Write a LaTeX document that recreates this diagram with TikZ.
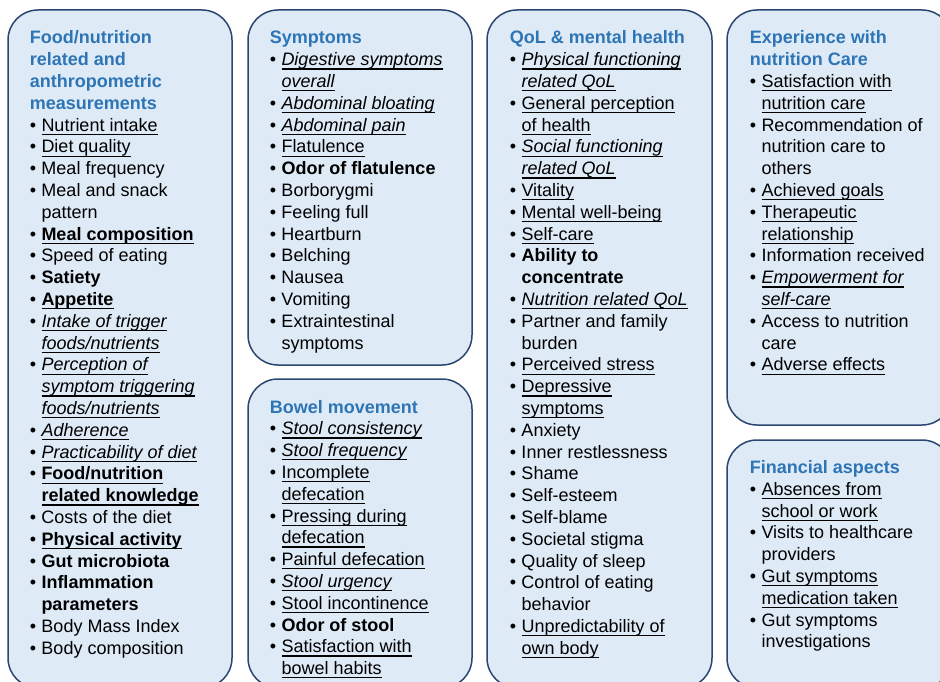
\documentclass[tikz,border=0pt]{standalone}
\usepackage{fontspec}
\setmainfont{Liberation Sans}
\usepackage{array}

\definecolor{boxfill}{HTML}{DEEAF6}
\definecolor{boxline}{HTML}{2B4670}
\definecolor{headblue}{HTML}{2E75B6}

% underline drawn as a rule under a saved box
\newsavebox{\ulnbox}
\newcommand{\uln}[1]{\sbox{\ulnbox}{#1}\rlap{\rule[-3.8pt]{\wd\ulnbox}{1.2pt}}\usebox{\ulnbox}}
\newcommand{\uit}[1]{{\itshape\uln{#1}}}
\newcommand{\ubf}[1]{{\bfseries\uln{#1}}}

% rows of the outcome lists
\newcommand{\headrow}[1]{\multicolumn{2}{@{}l@{}}{\color{headblue}\bfseries #1}\\}
\newcommand{\itemrow}[1]{\textbullet & #1\\}
\newcommand{\itemcont}[1]{& #1\\}

\tikzset{
	box/.style={draw=boxline, line width=1.5pt, fill=boxfill, rounded corners=30pt},
	list/.style={anchor=base west, inner sep=0pt, font=\fontsize{18}{21.8}\selectfont}
}

\begin{document}
\begin{tikzpicture}[x=1pt, y=-1pt]
	\useasboundingbox (0,0) rectangle (940,682);
	\clip (0,0) rectangle (940,682);

	% the six boxes
	\draw[box] (8,10) rectangle (232,688);
	\draw[box] (248,10) rectangle (472,365);
	\draw[box] (248,379) rectangle (472,688);
	\draw[box] (487,10) rectangle (712,688);
	\draw[box] (727,10) rectangle (952,425);
	\draw[box] (727,440) rectangle (952,688);

	% food
	\node[list] (food) at (29.7,44) {\begin{tabular}[t]{@{}p{11.6pt}@{}l@{}}
		\headrow{Food/nutrition}
		\headrow{related and}
		\headrow{anthropometric}
		\headrow{measurements}
		\itemrow{\uln{Nutrient intake}}
		\itemrow{\uln{Diet quality}}
		\itemrow{Meal frequency}
		\itemrow{Meal and snack}
		\itemcont{pattern}
		\itemrow{\ubf{Meal composition}}
		\itemrow{Speed of eating}
		\itemrow{\textbf{Satiety}}
		\itemrow{\ubf{Appetite}}
		\itemrow{\uit{Intake of trigger}}
		\itemcont{\uit{foods/nutrients}}
		\itemrow{\uit{Perception of}}
		\itemcont{\uit{symptom triggering}}
		\itemcont{\uit{foods/nutrients}}
		\itemrow{\uit{Adherence}}
		\itemrow{\uit{Practicability of diet}}
		\itemrow{\ubf{Food/nutrition}}
		\itemcont{\ubf{related knowledge}}
		\itemrow{Costs of the diet}
		\itemrow{\ubf{Physical activity}}
		\itemrow{\textbf{Gut microbiota}}
		\itemrow{\textbf{Inflammation}}
		\itemcont{\textbf{parameters}}
		\itemrow{Body Mass Index}
		\itemrow{Body composition}
	\end{tabular}};

	% symptoms
	\node[list] (symptoms) at (269.7,44) {\begin{tabular}[t]{@{}p{11.6pt}@{}l@{}}
		\headrow{Symptoms}
		\itemrow{\uit{Digestive symptoms}}
		\itemcont{\uit{overall}}
		\itemrow{\uit{Abdominal bloating}}
		\itemrow{\uit{Abdominal pain}}
		\itemrow{\uln{Flatulence}}
		\itemrow{\textbf{Odor of flatulence}}
		\itemrow{Borborygmi}
		\itemrow{Feeling full}
		\itemrow{Heartburn}
		\itemrow{Belching}
		\itemrow{Nausea}
		\itemrow{Vomiting}
		\itemrow{Extraintestinal}
		\itemcont{symptoms}
	\end{tabular}};

	% bowel
	\node[list] (bowel) at (269.7,413) {\begin{tabular}[t]{@{}p{11.6pt}@{}l@{}}
		\headrow{Bowel movement}
		\itemrow{\uit{Stool consistency}}
		\itemrow{\uit{Stool frequency}}
		\itemrow{\uln{Incomplete}}
		\itemcont{\uln{defecation}}
		\itemrow{\uln{Pressing during}}
		\itemcont{\uln{defecation}}
		\itemrow{\uln{Painful defecation}}
		\itemrow{\uit{Stool urgency}}
		\itemrow{\uln{Stool incontinence}}
		\itemrow{\textbf{Odor of stool}}
		\itemrow{\uln{Satisfaction with}}
		\itemcont{\uln{bowel habits}}
	\end{tabular}};

	% qol
	\node[list] (qol) at (509.7,44) {\begin{tabular}[t]{@{}p{11.6pt}@{}l@{}}
		\headrow{QoL \& mental health}
		\itemrow{\uit{Physical functioning}}
		\itemcont{\uit{related QoL}}
		\itemrow{\uln{General perception}}
		\itemcont{\uln{of health}}
		\itemrow{\uit{Social functioning}}
		\itemcont{\uit{related QoL}}
		\itemrow{\uln{Vitality}}
		\itemrow{\uln{Mental well-being}}
		\itemrow{\uln{Self-care}}
		\itemrow{\textbf{Ability to}}
		\itemcont{\textbf{concentrate}}
		\itemrow{\uit{Nutrition related QoL}}
		\itemrow{Partner and family}
		\itemcont{burden}
		\itemrow{\uln{Perceived stress}}
		\itemrow{\uln{Depressive}}
		\itemcont{\uln{symptoms}}
		\itemrow{Anxiety}
		\itemrow{Inner restlessness}
		\itemrow{Shame}
		\itemrow{Self-esteem}
		\itemrow{Self-blame}
		\itemrow{Societal stigma}
		\itemrow{Quality of sleep}
		\itemrow{Control of eating}
		\itemcont{behavior}
		\itemrow{\uln{Unpredictability of}}
		\itemcont{\uln{own body}}
	\end{tabular}};

	% experience
	\node[list] (care) at (749.7,44) {\begin{tabular}[t]{@{}p{11.6pt}@{}l@{}}
		\headrow{Experience with}
		\headrow{nutrition Care}
		\itemrow{\uln{Satisfaction with}}
		\itemcont{\uln{nutrition care}}
		\itemrow{Recommendation of}
		\itemcont{nutrition care to}
		\itemcont{others}
		\itemrow{\uln{Achieved goals}}
		\itemrow{\uln{Therapeutic}}
		\itemcont{\uln{relationship}}
		\itemrow{Information received}
		\itemrow{\uit{Empowerment for}}
		\itemcont{\uit{self-care}}
		\itemrow{Access to nutrition}
		\itemcont{care}
		\itemrow{\uln{Adverse effects}}
	\end{tabular}};

	% financial
	\node[list] (costs) at (749.7,473.5) {\begin{tabular}[t]{@{}p{11.6pt}@{}l@{}}
		\headrow{Financial aspects}
		\itemrow{\uln{Absences from}}
		\itemcont{\uln{school or work}}
		\itemrow{Visits to healthcare}
		\itemcont{providers}
		\itemrow{\uln{Gut symptoms}}
		\itemcont{\uln{medication taken}}
		\itemrow{Gut symptoms}
		\itemcont{investigations}
	\end{tabular}};
\end{tikzpicture}
\end{document}
